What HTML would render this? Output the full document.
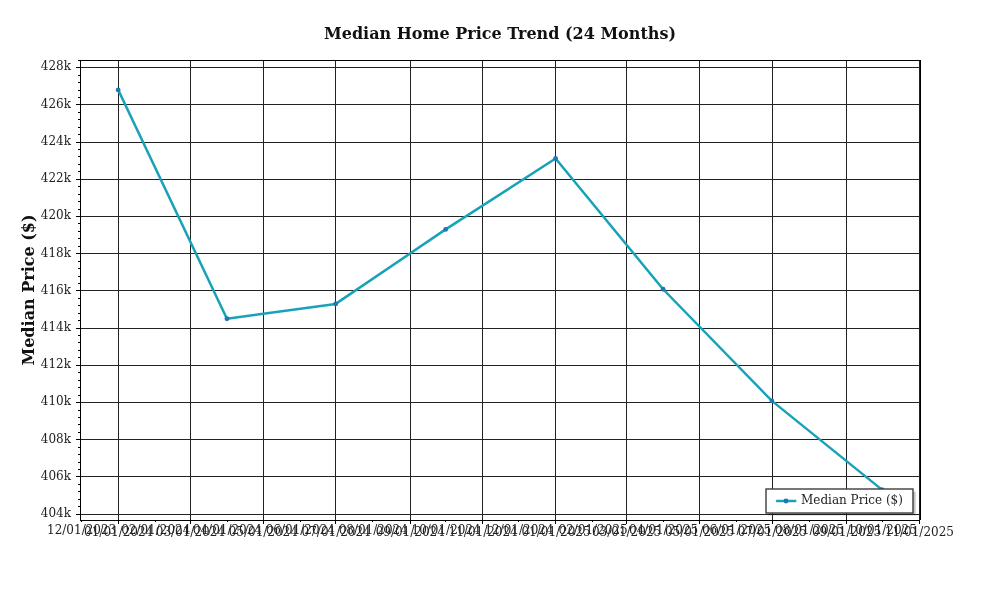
<!DOCTYPE html>
<html lang="en"><head><meta charset="utf-8"><title>Median Home Price Trend (24 Months)</title>
<style>html,body{margin:0;padding:0;background:#fff;overflow:hidden}svg{display:block}text{font-family:"DejaVu Serif", "Liberation Serif", serif;}</style></head><body>
<svg width="1000" height="600" viewBox="0 0 1000 600">
<rect x="0" y="0" width="1000" height="600" fill="#ffffff"/>
<g shape-rendering="crispEdges" fill="#222222">
<rect x="80" y="67" width="840" height="1"/>
<rect x="80" y="104" width="840" height="1"/>
<rect x="80" y="142" width="840" height="1"/>
<rect x="80" y="179" width="840" height="1"/>
<rect x="80" y="216" width="840" height="1"/>
<rect x="80" y="253" width="840" height="1"/>
<rect x="80" y="290" width="840" height="1"/>
<rect x="80" y="328" width="840" height="1"/>
<rect x="80" y="365" width="840" height="1"/>
<rect x="80" y="402" width="840" height="1"/>
<rect x="80" y="439" width="840" height="1"/>
<rect x="80" y="476" width="840" height="1"/>
<rect x="80" y="514" width="840" height="1"/>
<rect x="118" y="60" width="1" height="460"/>
<rect x="190" y="60" width="1" height="460"/>
<rect x="263" y="60" width="1" height="460"/>
<rect x="335" y="60" width="1" height="460"/>
<rect x="410" y="60" width="1" height="460"/>
<rect x="482" y="60" width="1" height="460"/>
<rect x="555" y="60" width="1" height="460"/>
<rect x="626" y="60" width="1" height="460"/>
<rect x="699" y="60" width="1" height="460"/>
<rect x="772" y="60" width="1" height="460"/>
<rect x="846" y="60" width="1" height="460"/>
<rect x="919" y="60" width="1" height="460"/>
</g>
<g shape-rendering="crispEdges" fill="#000000">
<rect x="76" y="67" width="4" height="1"/>
<rect x="76" y="104" width="4" height="1"/>
<rect x="76" y="142" width="4" height="1"/>
<rect x="76" y="179" width="4" height="1"/>
<rect x="76" y="216" width="4" height="1"/>
<rect x="76" y="253" width="4" height="1"/>
<rect x="76" y="290" width="4" height="1"/>
<rect x="76" y="328" width="4" height="1"/>
<rect x="76" y="365" width="4" height="1"/>
<rect x="76" y="402" width="4" height="1"/>
<rect x="76" y="439" width="4" height="1"/>
<rect x="76" y="476" width="4" height="1"/>
<rect x="76" y="514" width="4" height="1"/>
<rect x="78" y="60" width="2" height="1"/>
<rect x="78" y="75" width="2" height="1"/>
<rect x="78" y="82" width="2" height="1"/>
<rect x="78" y="90" width="2" height="1"/>
<rect x="78" y="97" width="2" height="1"/>
<rect x="78" y="112" width="2" height="1"/>
<rect x="78" y="119" width="2" height="1"/>
<rect x="78" y="127" width="2" height="1"/>
<rect x="78" y="134" width="2" height="1"/>
<rect x="78" y="149" width="2" height="1"/>
<rect x="78" y="156" width="2" height="1"/>
<rect x="78" y="164" width="2" height="1"/>
<rect x="78" y="171" width="2" height="1"/>
<rect x="78" y="186" width="2" height="1"/>
<rect x="78" y="194" width="2" height="1"/>
<rect x="78" y="201" width="2" height="1"/>
<rect x="78" y="209" width="2" height="1"/>
<rect x="78" y="223" width="2" height="1"/>
<rect x="78" y="231" width="2" height="1"/>
<rect x="78" y="238" width="2" height="1"/>
<rect x="78" y="246" width="2" height="1"/>
<rect x="78" y="261" width="2" height="1"/>
<rect x="78" y="268" width="2" height="1"/>
<rect x="78" y="276" width="2" height="1"/>
<rect x="78" y="283" width="2" height="1"/>
<rect x="78" y="298" width="2" height="1"/>
<rect x="78" y="305" width="2" height="1"/>
<rect x="78" y="313" width="2" height="1"/>
<rect x="78" y="320" width="2" height="1"/>
<rect x="78" y="335" width="2" height="1"/>
<rect x="78" y="342" width="2" height="1"/>
<rect x="78" y="350" width="2" height="1"/>
<rect x="78" y="357" width="2" height="1"/>
<rect x="78" y="372" width="2" height="1"/>
<rect x="78" y="380" width="2" height="1"/>
<rect x="78" y="387" width="2" height="1"/>
<rect x="78" y="395" width="2" height="1"/>
<rect x="78" y="410" width="2" height="1"/>
<rect x="78" y="417" width="2" height="1"/>
<rect x="78" y="424" width="2" height="1"/>
<rect x="78" y="432" width="2" height="1"/>
<rect x="78" y="447" width="2" height="1"/>
<rect x="78" y="454" width="2" height="1"/>
<rect x="78" y="462" width="2" height="1"/>
<rect x="78" y="469" width="2" height="1"/>
<rect x="78" y="484" width="2" height="1"/>
<rect x="78" y="491" width="2" height="1"/>
<rect x="78" y="499" width="2" height="1"/>
<rect x="78" y="506" width="2" height="1"/>
<rect x="118" y="520" width="1" height="4"/>
<rect x="190" y="520" width="1" height="4"/>
<rect x="263" y="520" width="1" height="4"/>
<rect x="335" y="520" width="1" height="4"/>
<rect x="410" y="520" width="1" height="4"/>
<rect x="482" y="520" width="1" height="4"/>
<rect x="555" y="520" width="1" height="4"/>
<rect x="626" y="520" width="1" height="4"/>
<rect x="699" y="520" width="1" height="4"/>
<rect x="772" y="520" width="1" height="4"/>
<rect x="846" y="520" width="1" height="4"/>
<rect x="919" y="520" width="1" height="4"/>
<rect x="81" y="520" width="1" height="2"/>
<rect x="155" y="520" width="1" height="2"/>
<rect x="227" y="520" width="1" height="2"/>
<rect x="300" y="520" width="1" height="2"/>
<rect x="372" y="520" width="1" height="2"/>
<rect x="445" y="520" width="1" height="2"/>
<rect x="518" y="520" width="1" height="2"/>
<rect x="592" y="520" width="1" height="2"/>
<rect x="663" y="520" width="1" height="2"/>
<rect x="736" y="520" width="1" height="2"/>
<rect x="809" y="520" width="1" height="2"/>
<rect x="882" y="520" width="1" height="2"/>
</g>
<polyline fill="none" stroke="#17a2b8" stroke-width="2.5" stroke-linejoin="round" stroke-linecap="square" points="118.18,89.90 226.93,318.75 335.68,303.90 445.63,229.40 555.57,158.50 663.12,289.25 771.87,400.90 881.82,489.60"/>
<circle cx="118.18" cy="89.90" r="2.4" fill="#1f77b4"/>
<circle cx="226.93" cy="318.75" r="2.4" fill="#1f77b4"/>
<circle cx="335.68" cy="303.90" r="2.4" fill="#1f77b4"/>
<circle cx="445.63" cy="229.40" r="2.4" fill="#1f77b4"/>
<circle cx="555.57" cy="158.50" r="2.4" fill="#1f77b4"/>
<circle cx="663.12" cy="289.25" r="2.4" fill="#1f77b4"/>
<circle cx="771.87" cy="400.90" r="2.4" fill="#1f77b4"/>
<circle cx="881.82" cy="489.60" r="2.4" fill="#1f77b4"/>
<g shape-rendering="crispEdges" fill="#000000">
<rect x="80" y="60" width="841" height="1"/>
<rect x="80" y="520" width="840" height="1"/>
<rect x="80" y="60" width="1" height="461"/>
<rect x="920" y="60" width="1" height="460"/>
</g>
<rect x="768" y="491.8" width="147.7" height="23.6" fill="#000000" fill-opacity="0.22"/>
<rect x="766" y="489" width="147" height="24" fill="#ffffff" stroke="#3c3c3c" stroke-width="1.39"/>
<line x1="776.1" y1="501" x2="796.3" y2="501" stroke="#17a2b8" stroke-width="2.5"/>
<circle cx="786" cy="501" r="2.4" fill="#1f77b4"/>
<text x="801" y="504" font-size="12" fill="#222222">Median Price ($)</text>
<text x="500.0" y="39.0" font-size="16" font-weight="bold" text-anchor="middle" fill="#111111">Median Home Price Trend (24 Months)</text>
<text transform="translate(33.5,290.0) rotate(-90)" font-size="16" font-weight="bold" text-anchor="middle" fill="#111111">Median Price ($)</text>
<g font-size="12" fill="#222222" text-anchor="end">
<text x="71.0" y="70">428k</text>
<text x="71.0" y="108">426k</text>
<text x="71.0" y="145">424k</text>
<text x="71.0" y="182">422k</text>
<text x="71.0" y="219">420k</text>
<text x="71.0" y="257">418k</text>
<text x="71.0" y="294">416k</text>
<text x="71.0" y="331">414k</text>
<text x="71.0" y="368">412k</text>
<text x="71.0" y="405">410k</text>
<text x="71.0" y="443">408k</text>
<text x="71.0" y="480">406k</text>
<text x="71.0" y="517">404k</text>
</g>
<g font-size="12" fill="#222222" text-anchor="middle">
<text x="81.64" y="534.0">12/01/2023</text>
<text x="118.68" y="536.0">01/01/2024</text>
<text x="155.73" y="534.0">02/01/2024</text>
<text x="190.38" y="536.0">03/01/2024</text>
<text x="227.43" y="534.0">04/01/2024</text>
<text x="263.28" y="536.0">05/01/2024</text>
<text x="300.33" y="534.0">06/01/2024</text>
<text x="336.18" y="536.0">07/01/2024</text>
<text x="373.23" y="534.0">08/01/2024</text>
<text x="410.27" y="536.0">09/01/2024</text>
<text x="446.13" y="534.0">10/01/2024</text>
<text x="483.17" y="536.0">11/01/2024</text>
<text x="519.02" y="534.0">12/01/2024</text>
<text x="556.07" y="536.0">01/01/2025</text>
<text x="593.12" y="534.0">02/01/2025</text>
<text x="626.58" y="536.0">03/01/2025</text>
<text x="663.62" y="534.0">04/01/2025</text>
<text x="699.48" y="536.0">05/01/2025</text>
<text x="736.52" y="534.0">06/01/2025</text>
<text x="772.37" y="536.0">07/01/2025</text>
<text x="809.42" y="534.0">08/01/2025</text>
<text x="846.47" y="536.0">09/01/2025</text>
<text x="882.32" y="534.0">10/01/2025</text>
<text x="919.36" y="536.0">11/01/2025</text>
</g>
</svg></body></html>
